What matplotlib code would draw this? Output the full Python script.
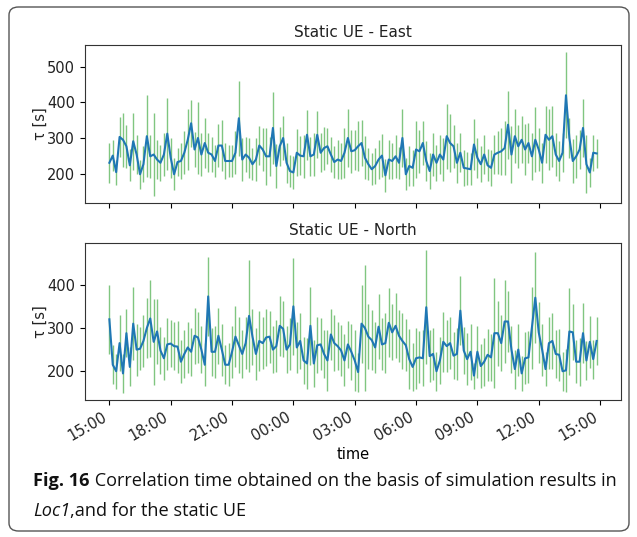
import matplotlib
matplotlib.use("Agg")
import matplotlib.pyplot as plt
import matplotlib.dates as mdates
from matplotlib.patches import FancyBboxPatch
import numpy as np
import pandas as pd

# ---------------- data ----------------
start_time = "2020-01-01 15:00"
n_points = 144
step = "10min"

east_mean = [
    232, 252, 206, 304, 296, 278, 225, 292, 255, 200,
    228, 306, 250, 255, 241, 232, 255, 313, 246, 200,
    234, 237, 260, 296, 342, 269, 301, 255, 287, 260,
    255, 237, 280, 280, 237, 237, 237, 260, 356, 241,
    255, 246, 228, 241, 280, 269, 250, 250, 329, 223,
    278, 301, 232, 209, 205, 260, 252,
    250, 310, 250, 255, 310, 260, 273, 278, 255,
    234, 241, 237, 260, 301, 264, 267, 278, 287, 246,
    228, 214, 223, 241, 252, 197, 241, 237, 250, 232,
    301, 200, 223, 218, 269, 264, 287, 237, 209, 255,
    232, 255, 241, 306, 287, 278, 232, 260, 218, 216,
    214, 283, 246, 228, 255, 225, 218, 255, 260, 264,
    273, 338, 255, 306, 278, 296, 269, 287, 250, 296,
    269, 232, 310, 296, 306, 255, 237, 260, 420, 301,
    237, 250, 269, 329, 228, 205, 260, 258,
]
east_err = [
    55, 44, 35, 55, 75, 60, 45, 80, 55, 40,
    50, 114, 60, 115, 55, 50, 60, 100, 55, 45,
    40, 50, 60, 85, 65, 50, 100, 60, 70, 55,
    50, 45, 60, 70, 50, 45, 45, 60, 105, 60,
    50, 55, 45, 60, 55, 60, 80, 55, 100, 60,
    55, 60, 55, 45, 45, 65, 55,
    60, 70, 55, 60, 65, 55, 60, 50, 50,
    45, 55, 50, 70, 80, 60, 55, 70, 65, 60,
    45, 45, 50, 55, 60, 45, 55, 50, 60, 45,
    80, 45, 55, 50, 80, 60, 60, 55, 50, 60,
    50, 55, 60, 90, 80, 60, 55, 55, 50, 45,
    45, 70, 55, 50, 55, 45, 50, 55, 60, 65,
    75, 95, 80, 75, 60, 65, 70, 55, 65, 90,
    60, 55, 80, 85, 85, 60, 55, 55, 120, 55,
    60, 60, 55, 80, 80, 40, 50, 40,
]
north_mean = [
    320, 215, 200, 265, 195, 288, 210, 310, 250, 252,
    270, 300, 322, 268, 292, 248, 230, 262, 264, 258,
    257, 222, 240, 255, 245, 282, 278, 250, 215, 373,
    245, 245, 282, 250, 215, 215, 245, 280, 260, 240,
    265, 328, 280, 240, 270, 265, 278, 280, 250, 258,
    305, 298, 250, 262, 350, 255, 270, 225, 218,
    305, 218, 260, 262, 240, 225, 285, 265, 258, 248,
    225, 262, 245, 225, 198, 310, 300, 280, 272, 255,
    303, 262, 265, 312, 290, 305, 282, 270, 260, 228,
    210, 230, 232, 230, 348, 235, 240, 200, 225, 268,
    258, 265, 236, 240, 340, 248, 228, 245, 190, 245,
    212, 222, 238, 232, 288, 288, 265, 315, 315, 250,
    205, 250, 195, 230, 232, 300, 370, 290, 250, 205,
    265, 270, 240, 238, 200, 202, 292, 290, 222, 222,
    288, 225, 268, 228, 270,
]
north_err = [
    80, 45, 40, 65, 45, 55, 45, 85, 60, 50,
    60, 70, 88, 100, 75, 55, 50, 60, 55, 55,
    60, 50, 55, 60, 55, 65, 60, 55, 50, 92,
    55, 60, 65, 60, 45, 50, 60, 70, 65, 55,
    60, 130, 65, 60, 70, 60, 65, 60, 55, 60,
    70, 65, 55, 60, 112, 60, 65, 55, 60,
    90, 55, 65, 60, 55, 70, 60, 65, 55, 60,
    60, 55, 65, 70, 45, 90, 145, 75, 70, 60,
    75, 60, 70, 80, 65, 75, 60, 65, 60, 70,
    55, 70, 60, 65, 132, 60, 60, 45, 55, 70,
    60, 60, 55, 60, 80, 55, 60, 65, 30, 60,
    50, 55, 60, 55, 127, 75, 65, 97, 70, 55,
    45, 60, 40, 60, 60, 95, 105, 70, 60, 40,
    60, 65, 55, 60, 45, 50, 100, 65, 50, 55,
    70, 45, 60, 45, 55,
]

titles = ["Static UE - East", "Static UE - North"]
ylabel = "τ [s]"
xlabel = "time"
caption_bold = "Fig. 16"
caption_rest = " Correlation time obtained on the basis of simulation results in"
caption_italic = "Loc1"
caption_end = ",and for the static UE"

# ---------------- plot ----------------
times = pd.date_range(start_time, periods=n_points, freq=step)

W, H = 637, 537
fig = plt.figure(figsize=(W / 100, H / 100), dpi=100)
fig.patch.set_facecolor("white")

def px(x0, y0, x1, y1):
    return [x0 / W, 1 - y1 / H, (x1 - x0) / W, (y1 - y0) / H]

ax1 = fig.add_axes(px(85, 45, 621, 203))
ax2 = fig.add_axes(px(85, 243, 621, 400), sharex=ax1)

green = "#2ca02c"
blue = "#1f77b4"
for ax, m, e, t in [(ax1, east_mean, east_err, titles[0]),
                    (ax2, north_mean, north_err, titles[1])]:
    ax.errorbar(times, m, yerr=e, fmt="none", ecolor=green, alpha=0.6,
                elinewidth=1.0, capsize=0)
    ax.plot(times, m, color=blue, lw=1.5)
    ax.set_title(t, fontsize=11, pad=6, color="#222222")
    ax.set_ylabel(ylabel, fontsize=10.5, color="#222222")
    ax.tick_params(labelsize=10.5, labelcolor="#222222")
    for s in ax.spines.values():
        s.set_color("#333333")

ax1.set_yticks([200, 300, 400, 500])
ax2.set_yticks([200, 300, 400])
ax2.xaxis.set_major_locator(mdates.HourLocator(byhour=range(0, 24, 3)))
ax2.xaxis.set_major_formatter(mdates.DateFormatter("%H:%M"))
plt.setp(ax1.get_xticklabels(), visible=False)
for lab in ax2.get_xticklabels():
    lab.set_rotation(30)
    lab.set_ha("right")
ax2.set_xlabel(xlabel, fontsize=10.5, labelpad=2)
for ax in (ax1, ax2):
    ax.yaxis.set_label_coords(-0.07, 0.5)

# rounded frame
frame = FancyBboxPatch((9 / W, 6 / H), (629 - 9) / W, (530 - 6) / H,
                       boxstyle="round,pad=0,rounding_size=0.015",
                       transform=fig.transFigure, fill=False,
                       edgecolor="#555555", lw=1.0)
fig.patches.append(frame)

# caption
cap_font = "Open Sans"
cap_size = 13.1
renderer = fig.canvas.get_renderer()
y1 = 1 - 486 / H
t1 = fig.text(33 / W, y1, caption_bold, fontsize=cap_size, fontweight="bold",
              family=cap_font, va="baseline", color="#111111")
bb = t1.get_window_extent(renderer)
fig.text(bb.x1 / W, y1, caption_rest, fontsize=cap_size, family=cap_font,
         va="baseline", color="#111111")
y2 = 1 - 516 / H
t3 = fig.text(33 / W, y2, caption_italic, fontsize=cap_size, style="italic",
              family=cap_font, va="baseline", color="#111111")
bb = t3.get_window_extent(renderer)
fig.text(bb.x1 / W, y2, caption_end, fontsize=cap_size, family=cap_font,
         va="baseline", color="#111111")

fig.savefig("out.png", dpi=100)
